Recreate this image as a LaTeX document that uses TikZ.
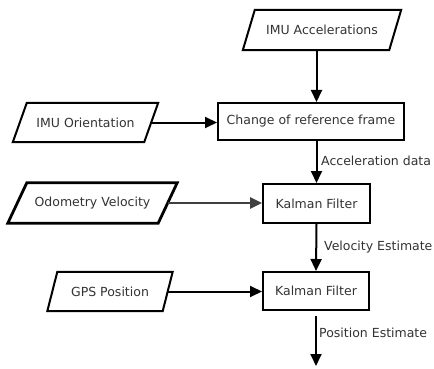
\documentclass[tikz,border=0pt]{standalone}
\usepackage{fontspec}
\setmainfont{DejaVu Sans}
\usetikzlibrary{arrows.meta}
\tikzset{
  base/.style={font=\fontsize{12.5}{14}\selectfont, text=black!80, inner sep=0pt},
  procbox/.style={base, draw=black, line width=2pt, minimum height=38pt},
  iobox/.style={base, minimum height=40pt},
  para/.style={draw=black, line width=2pt, line join=miter},
  thickpara/.style={draw=black, line width=2.8pt, line join=miter},
  arr/.style={draw=black, line width=2pt, -{Triangle[length=12pt,width=11pt]}},
  thickarr/.style={draw=black!75, line width=2.6pt, -{Triangle[length=12pt,width=11pt]}},
  lbl/.style={base, anchor=west}
}
\begin{document}
\begin{tikzpicture}[x=1pt,y=-1pt]
\useasboundingbox (0,0) rectangle (434,369);
\fill[white] (0,0) rectangle (434,369);

% input nodes (parallelograms)
\node[iobox, minimum width=146pt, minimum height=40pt] (acc) at (322,30) {IMU Accelerations};
\draw[para] ([xshift=-6pt]acc.south west) -- ([xshift=6pt]acc.north west) -- ([xshift=6pt]acc.north east) -- ([xshift=-6pt]acc.south east) -- cycle;

\node[iobox, minimum width=131pt, minimum height=39pt] (ori) at (85.5,122.5) {IMU Orientation};
\draw[para] ([xshift=-7pt]ori.south west) -- ([xshift=7pt]ori.north west) -- ([xshift=7pt]ori.north east) -- ([xshift=-7pt]ori.south east) -- cycle;

\node[iobox, minimum width=150pt, minimum height=40pt] (odo) at (92.5,203) {Odometry Velocity};
\draw[thickpara] ([xshift=-9.5pt]odo.south west) -- ([xshift=9.5pt]odo.north west) -- ([xshift=9.5pt]odo.north east) -- ([xshift=-9.5pt]odo.south east) -- cycle;

\node[iobox, minimum width=115pt, minimum height=39pt] (gps) at (110,291.5) {GPS Position};
\draw[para] ([xshift=-5pt]gps.south west) -- ([xshift=5pt]gps.north west) -- ([xshift=5pt]gps.north east) -- ([xshift=-5pt]gps.south east) -- cycle;

% process boxes
\node[procbox, minimum width=186pt, minimum height=37pt] (chg) at (311,121.5) {Change of reference frame};
\node[procbox, minimum width=107pt, minimum height=39pt] (k1) at (316.5,203.5) {Kalman Filter};
\node[procbox, minimum width=106pt, minimum height=38pt] (k2) at (316,291) {Kalman Filter};

\coordinate (out) at (316,366);

% connectors
\draw[arr] (acc.south -| k1.north) -- (chg.north -| k1.north);
\draw[arr] (ori.east) -- (chg.west |- ori.east);
\draw[arr] (chg.south -| k1.north) -- (k1.north);
\draw[thickarr] (odo.east) -- (k1.west |- odo.east);
\draw[arr] (k1.south) -- (k2.north);
\draw[arr] (gps.east) -- (k2.west |- gps.east);
\draw[arr, shorten <=5pt] (k2.south) -- (out);

% labels
\node[lbl] (l1) at (321,161) {Acceleration data};
\node[lbl] (l2) at (324,247) {Velocity Estimate};
\node[lbl] (l3) at (319,333) {Position Estimate};
\end{tikzpicture}
\end{document}
